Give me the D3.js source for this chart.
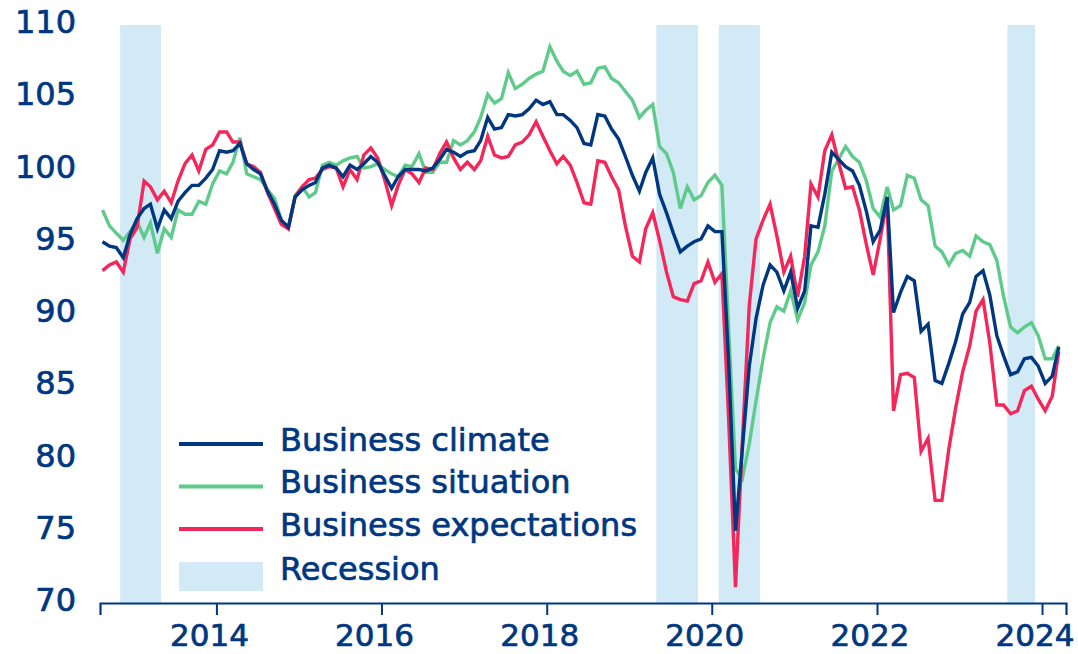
<!DOCTYPE html>
<html>
<head>
<meta charset="utf-8">
<script src="https://cdn.jsdelivr.net/npm/d3@7"></script>
<style>
    body { margin: 0; background: #fff; }
    svg text { font-family: 'DejaVu Sans', sans-serif; fill: #003781; stroke: #003781; stroke-width: 0.7px; }
</style>
</head>
<body>
<svg width="1078" height="654"></svg>
<script>
// monthly readings, Aug 2012 .. Mar 2024
var firstMonth = '2012-08-01';
var lastMonth = '2024-03-01';

var climate = [
    95.0, 94.7, 94.6, 93.9, 95.5, 96.6, 97.3, 97.6, 95.9, 97.2, 96.6, 97.8,
    98.4, 98.9, 98.9, 99.4, 100.0, 101.3, 101.2, 101.3, 101.8, 100.4, 100.0, 99.7,
    98.5, 97.6, 96.5, 96.0, 98.1, 98.6, 98.9, 99.1, 100.1, 100.3, 100.1, 99.5,
    100.3, 100.0, 100.4, 100.9, 100.5, 99.6, 98.7, 99.5, 100.0, 100.0, 100.0, 99.9,
    100.1, 100.7, 101.4, 101.2, 100.9, 101.2, 101.3, 102.0, 103.6, 102.8, 102.9, 103.8,
    103.7, 103.8, 104.2, 104.8, 104.5, 104.7, 103.8, 103.8, 103.4, 102.9, 101.8, 101.7,
    103.8, 103.7, 102.8, 102.1, 100.9, 99.6, 98.5, 99.8, 100.8, 98.3, 97.0, 95.6,
    94.3, 94.7, 95.0, 95.2, 96.1, 95.7, 95.7, 87.0, 75.0, 80.6, 86.4, 89.7,
    92.0, 93.4, 92.9, 91.6, 92.9, 90.4, 91.6, 96.1, 96.0, 98.3, 101.2, 100.7,
    100.2, 99.9, 98.9, 97.1, 95.0, 95.8, 98.1, 90.1, 91.5, 92.6, 92.3, 88.8,
    89.3, 85.4, 85.2, 86.6, 88.1, 90.0, 90.8, 92.6, 93.0, 91.3, 88.5, 87.1,
    85.8, 86.0, 86.9, 87.0, 86.4, 85.2, 85.7, 87.7
];
var situation = [
    97.2, 96.1, 95.6, 95.1, 95.7, 96.4, 95.3, 96.3, 94.2, 95.9, 95.3, 97.2,
    96.9, 96.9, 97.8, 97.6, 99.0, 99.9, 99.7, 100.5, 102.2, 99.7, 99.5, 99.3,
    98.6, 98.0, 96.5, 95.9, 98.2, 98.8, 98.1, 98.4, 100.3, 100.5, 100.3, 100.6,
    100.8, 100.9, 100.1, 100.2, 100.4, 100.0, 99.7, 99.5, 100.3, 100.2, 101.1, 99.8,
    99.8, 100.5, 100.5, 102.0, 101.7, 102.0, 102.6, 103.6, 105.2, 104.6, 104.9, 106.7,
    105.6, 105.9, 106.3, 106.6, 106.8, 108.5, 107.5, 106.8, 106.5, 106.8, 105.9, 106.0,
    107.0, 107.1, 106.3, 106.0, 105.4, 104.8, 103.6, 104.1, 104.5, 101.6, 101.1, 99.8,
    97.3, 98.8, 97.9, 98.2, 99.1, 99.6, 98.9, 89.2, 79.3, 78.6, 81.0, 84.0,
    86.9, 89.4, 90.5, 90.2, 91.6, 89.6, 90.8, 93.4, 94.3, 96.1, 99.9, 100.7,
    101.6, 100.9, 100.5, 99.2, 97.3, 96.7, 98.8, 97.2, 97.5, 99.6, 99.4, 97.9,
    97.5, 94.7, 94.3, 93.4, 94.2, 94.4, 94.0, 95.4, 95.0, 94.8, 93.7, 91.2,
    89.1, 88.7, 89.1, 89.4, 88.5, 86.9, 86.9, 87.8
];
var expectations = [
    93.0, 93.4, 93.6, 92.9, 95.2, 96.0, 99.2, 98.8, 97.9, 98.5, 97.7, 99.2,
    100.4, 101.0, 99.9, 101.4, 101.7, 102.6, 102.6, 101.9, 101.9, 100.4, 100.2, 99.8,
    98.4, 97.3, 96.2, 95.9, 98.1, 98.8, 99.3, 99.4, 100.0, 100.2, 100.1, 98.8,
    100.0, 99.3, 101.0, 101.5, 100.8, 99.3, 97.5, 98.9, 100.0, 99.7, 99.1, 100.1,
    100.0, 101.1, 101.9, 100.8, 100.0, 100.5, 100.0, 100.6, 102.3, 101.0, 100.8, 100.9,
    101.7, 101.9, 102.4, 103.3, 102.3, 101.3, 100.4, 100.9, 100.3, 99.1, 97.7, 97.6,
    100.6, 100.5, 99.5, 98.6, 96.1, 94.0, 93.6, 95.9, 97.0, 95.1, 92.9, 91.2,
    91.0, 90.9, 92.1, 92.3, 93.6, 92.2, 92.8, 83.0, 71.1, 81.0, 90.6, 95.2,
    96.5, 97.6, 95.4, 92.9, 94.0, 91.2, 94.0, 99.0, 98.1, 101.3, 102.4, 100.5,
    98.7, 98.8, 97.2, 94.8, 92.7, 95.2, 97.9, 83.3, 85.8, 85.9, 85.6, 80.5,
    81.4, 77.1, 77.1, 80.7, 83.5, 86.0, 87.8, 90.2, 91.0, 88.0, 83.7, 83.7,
    83.1, 83.3, 84.7, 85.0, 84.1, 83.3, 84.3, 87.4
];

var recessionStart = ['2012-11-01', '2019-05-01', '2020-02-01', '2023-08-01'];
var recessionEnd = ['2013-05-01', '2019-11-01', '2020-08-01', '2023-12-01'];

var yearTicks = [2014, 2016, 2018, 2020, 2022, 2024];
var valueTicks = [70, 75, 80, 85, 90, 95, 100, 105, 110];

var seriesNames = ['Business climate', 'Business situation', 'Business expectations'];
var seriesColors = ['#003781', '#5ecb8b', '#f5265a'];
var bandColor = '#d1eaf5';

var parse = d3.utcParse('%Y-%m-%d');
var months = d3.utcMonth.range(parse(firstMonth), d3.utcMonth.offset(parse(lastMonth), 1))
    .map(function(m) { return d3.utcDay.offset(m, 14); });   // plotted mid-month

var svg = d3.select('svg');

var x = d3.scaleUtc()
    .domain([parse('2012-08-04'), parse('2024-04-16')])
    .range([100, 1066]);
var y = d3.scaleLinear()
    .domain([70, 110])
    .range([603, 25]);

// recession shading
svg.append('g').selectAll('rect')
    .data(recessionStart)
    .join('rect')
    .attr('x', function(d) { return x(parse(d)); })
    .attr('width', function(d, i) { return x(parse(recessionEnd[i])) - x(parse(d)); })
    .attr('y', y(110))
    .attr('height', y(70) - y(110))
    .attr('fill', bandColor);

// x axis: baseline, ticks, labels
var xAxis = d3.axisBottom(x)
    .tickValues(yearTicks.map(function(yr) { return new Date(Date.UTC(yr, 0, 1)); }))
    .tickSize(12)
    .tickFormat('');
var gx = svg.append('g')
    .attr('transform', 'translate(0,' + y(70) + ')')
    .call(xAxis);
gx.select('.domain').attr('stroke', '#003781').attr('stroke-width', 2.2);
gx.selectAll('.tick line').attr('stroke', '#003781').attr('stroke-width', 2);

svg.append('g').selectAll('text')
    .data(yearTicks)
    .join('text')
    .attr('x', function(d) { return x(new Date(Date.UTC(d, 0, 1))) - 7; })
    .attr('y', 646)
    .attr('text-anchor', 'middle')
    .style('font-size', '31px')
    .text(function(d) { return d; });

// y labels, no axis line
svg.append('g').selectAll('text')
    .data(valueTicks)
    .join('text')
    .attr('x', 76)
    .attr('y', function(d) { return y(d) + 8; })
    .attr('text-anchor', 'end')
    .style('font-size', '32px')
    .text(function(d) { return d; });

var line = d3.line()
    .x(function(d, i) { return x(months[i]); })
    .y(function(d) { return y(d); });

// green first, then red, navy on top
[situation, expectations, climate].forEach(function(values) {
    var k = [climate, situation, expectations].indexOf(values);
    svg.append('path')
        .attr('d', line(values))
        .attr('fill', 'none')
        .attr('stroke', seriesColors[k])
        .attr('stroke-width', 3.4)
        .attr('stroke-linejoin', 'miter');
});

// legend
var legend = svg.append('g').attr('transform', 'translate(179, 0)');
seriesNames.forEach(function(name, i) {
    var ly = 444 + i * 42.5;
    legend.append('line')
        .attr('x1', 0).attr('x2', 84)
        .attr('y1', ly).attr('y2', ly)
        .attr('stroke', seriesColors[i])
        .attr('stroke-width', 4);
    legend.append('text')
        .attr('x', 101)
        .attr('y', ly + 6.5)
        .style('font-size', '32px')
        .text(name);
});
legend.append('rect')
    .attr('x', 0).attr('y', 562)
    .attr('width', 84).attr('height', 29)
    .attr('fill', bandColor);
legend.append('text')
    .attr('x', 101)
    .attr('y', 580)
    .style('font-size', '32px')
    .text('Recession');
</script>
</body>
</html>
